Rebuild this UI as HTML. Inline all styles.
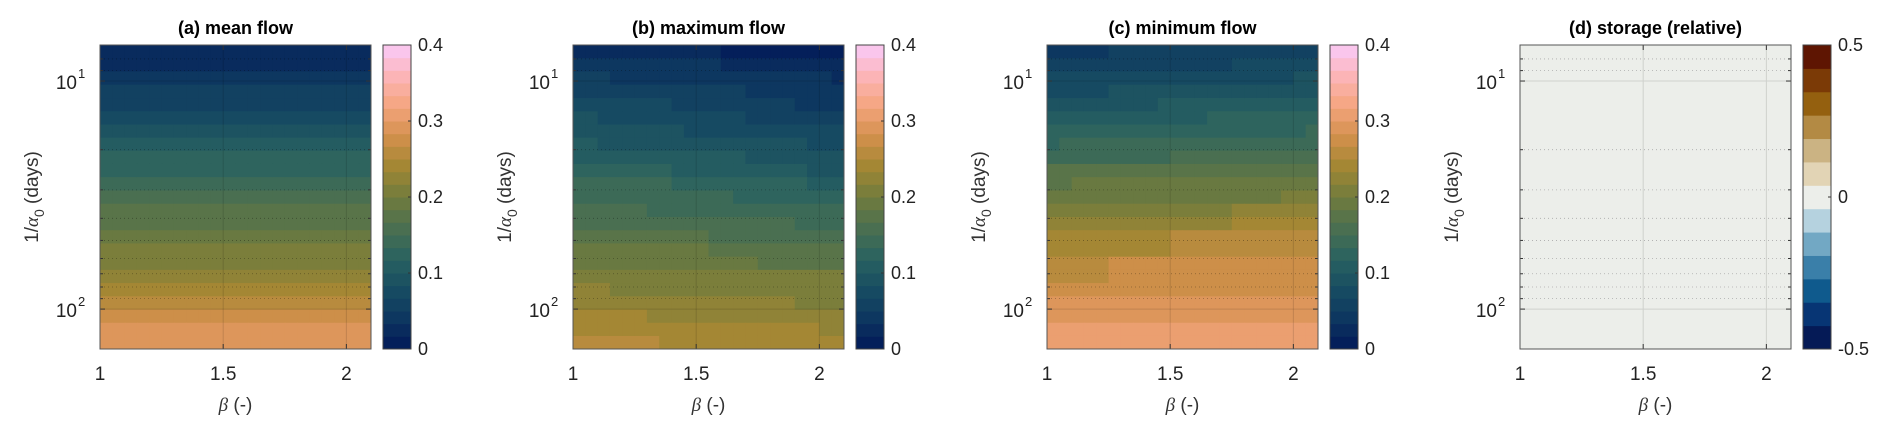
<!DOCTYPE html>
<html><head><meta charset="utf-8">
<style>
html,body{margin:0;padding:0;background:#fff;}
svg{display:block;font-family:"Liberation Sans",Arial,sans-serif;}
</style></head>
<body>
<svg id="fig" width="1892" height="434" viewBox="0 0 1892 434" xmlns="http://www.w3.org/2000/svg"></svg>
<script>
// ---- data ----
const betaValues = [1.025,1.075,1.125,1.175,1.225,1.275,1.325,1.375,1.425,1.475,1.525,1.575,1.625,1.675,1.725,1.775,1.825,1.875,1.925,1.975,2.025,2.075];
const alphaInvDays = [7.43,8.49,9.70,11.1,12.7,14.5,16.6,18.9,21.6,24.7,28.2,32.3,36.9,42.2,48.2,55.1,63.0,71.9,82.2,94.0,107.4,122.7,140.3];
const meanFlow = [0.025,0.025,0.04,0.06,0.06,0.075,0.09,0.11,0.125,0.125,0.14,0.16,0.175,0.175,0.19,0.21,0.21,0.225,0.24,0.26,0.275,0.29,0.29];
function R(){const o=[];for(let i=0;i<arguments.length;i+=2){for(let k=0;k<arguments[i];k++)o.push(arguments[i+1]);}return o;}
const maxFlow = [
R(12,0.025,10,0.01),
R(12,0.04,10,0.025),
R(3,0.06,18,0.04,1,0.025),
R(14,0.06,8,0.04),
R(8,0.075,10,0.06,4,0.04),
R(2,0.09,12,0.075,8,0.06),
R(9,0.09,13,0.075),
R(2,0.11,17,0.09,3,0.075),
R(14,0.11,8,0.09),
R(8,0.125,11,0.11,3,0.09),
R(8,0.14,11,0.125,3,0.11),
R(13,0.14,9,0.125),
R(6,0.16,16,0.14),
R(18,0.16,4,0.14),
R(11,0.175,11,0.16),
R(11,0.19,11,0.175),
R(15,0.19,7,0.175),
R(22,0.21),
R(3,0.225,19,0.21),
R(18,0.225,4,0.21),
R(6,0.24,16,0.225),
R(20,0.24,2,0.225),
R(7,0.26,15,0.24)];
const minFlow = [
R(5,0.04,17,0.06),
R(15,0.06,7,0.075),
R(20,0.075,2,0.09),
R(5,0.075,17,0.09),
R(9,0.09,13,0.11),
R(13,0.11,9,0.125),
R(21,0.125,1,0.14),
R(1,0.125,21,0.14),
R(10,0.14,12,0.16),
R(22,0.175),
R(2,0.175,20,0.19),
R(19,0.19,3,0.21),
R(15,0.21,7,0.225),
R(15,0.225,7,0.24),
R(10,0.24,12,0.26),
R(10,0.24,12,0.26),
R(5,0.26,17,0.275),
R(5,0.26,17,0.275),
R(22,0.275),
R(22,0.29),
R(22,0.29),
R(22,0.31),
R(22,0.31)];
const storageRel = [0,0,0,0,0,0,0,0,0,0,0,0,0,0,0,0,0,0,0,0,0,0,0];
const flowTicks = ["0","0.1","0.2","0.3","0.4"];
const storTicks = ["-0.5","0","0.5"];
const xTicks = [1,1.5,2];
const xTickLabels = ["1","1.5","2"];

// ---- colormaps ----
const batlowAnch = ["#011959","#0d3660","#174d62","#2a6260","#4b7050","#717b3d","#a28733","#d3904c","#f5a57f","#fcb5b8","#facafa"];
function hx(c){return [1,3,5].map(i=>parseInt(c.substr(i,2),16));}
function batlow(t){t=Math.max(0,Math.min(1,t));const p=t*10,i=Math.min(9,Math.floor(p)),f=p-i;const a=hx(batlowAnch[i]),b=hx(batlowAnch[i+1]);return 'rgb('+a.map((v,k)=>Math.round(v+(b[k]-v)*f)).join(',')+')';}
const NL=24;
function flowColor(v){let L=Math.floor(v/0.4*NL);L=Math.max(0,Math.min(NL-1,L));return batlow((L+0.5)/NL);}
const vikBands=["#051a56","#073574","#0f5a8d","#3a7fa9","#72a8c4","#b5d2df","#eceeea","#e2d4b5","#cbb383","#b38a44","#94600f","#7b3a06","#5e1502"];
function storColor(v){let L=Math.floor((v+0.5)/1*13);L=Math.max(0,Math.min(12,L));return vikBands[L];}

// ---- layout ----
const NS="http://www.w3.org/2000/svg";
const svg=document.getElementById('fig');
function el(tag,attrs,parent){const e=document.createElementNS(NS,tag);for(const k in attrs)e.setAttribute(k,attrs[k]);(parent||svg).appendChild(e);return e;}
const TOP=45,H=304,W=271,LMIN=0.842,LMAX=2.175;
function yPix(d){return TOP+(Math.log10(d)-LMIN)/(LMAX-LMIN)*H;}
function yLog(l){return TOP+(l-LMIN)/(LMAX-LMIN)*H;}
function xPix(L,b){return L+(b-1)/1.1*W;}

function panel(L,title,valueAt,colorFn,isStor,key){
  const g=el('g',{});
  
  
  const t=el('text',{x:L+W/2,y:34,'text-anchor':'middle','font-size':18,'font-weight':'bold',fill:'#000'},g);
  t.textContent=title;
  
  
  const lg=alphaInvDays.map(Math.log10);
  const n=lg.length;
  const cg=el('g',{},g);
  
  
  const bw=betaValues[1]-betaValues[0];
  for(let r=0;r<n;r++){
    let y0=r===0?TOP:yLog((lg[r-1]+lg[r])/2);
    let y1=r===n-1?TOP+H:yLog((lg[r]+lg[r+1])/2);
    y0=Math.max(TOP,y0);y1=Math.min(TOP+H,y1);
    for(let c=0;c<betaValues.length;c++){
      const x0=Math.max(L,xPix(L,betaValues[c]-bw/2)), x1=Math.min(L+W,xPix(L,betaValues[c]+bw/2));
      const rc=el('rect',{x:x0,y:y0,width:Math.min(x1-x0+0.6,L+W-x0),height:Math.min(y1-y0+0.6,TOP+H-y0),fill:colorFn(valueAt(r,c))},cg);
      
      
    }
  }
  const gridMaj=isStor?'#cfd1cd':'rgba(0,0,0,0.13)';
  const gridMin=isStor?'#aaa':'rgba(0,0,0,0.35)';
  [1.5,2].forEach(b=>el('line',{x1:xPix(L,b),x2:xPix(L,b),y1:TOP,y2:TOP+H,stroke:gridMaj,'stroke-width':1},g));
  [10,100].forEach(d=>el('line',{x1:L,x2:L+W,y1:yPix(d),y2:yPix(d),stroke:gridMaj,'stroke-width':1},g));
  [8,9,20,30,40,50,60,70,80,90].forEach(d=>{
    el('line',{x1:L,x2:L+W,y1:yPix(d),y2:yPix(d),stroke:gridMin,'stroke-width':0.8,'stroke-dasharray':'1 3'},g);
    el('line',{x1:L,x2:L+3,y1:yPix(d),y2:yPix(d),stroke:'#333','stroke-width':1},g);
    el('line',{x1:L+W-3,x2:L+W,y1:yPix(d),y2:yPix(d),stroke:'#333','stroke-width':1},g);
  });
  [10,100].forEach(d=>{
    el('line',{x1:L,x2:L+5,y1:yPix(d),y2:yPix(d),stroke:'#333'},g);
    el('line',{x1:L+W-5,x2:L+W,y1:yPix(d),y2:yPix(d),stroke:'#333'},g);
  });
  xTicks.forEach(b=>{
    el('line',{x1:xPix(L,b),x2:xPix(L,b),y1:TOP+H,y2:TOP+H-5,stroke:'#333'},g);
    el('line',{x1:xPix(L,b),x2:xPix(L,b),y1:TOP,y2:TOP+5,stroke:'#333'},g);
  });
  const box=el('rect',{x:L,y:TOP,width:W,height:H,fill:'none',stroke:'#555','stroke-width':1},g);
  
  
  xTicks.forEach((b,i)=>{
    const tx=el('text',{x:xPix(L,b),y:380,'text-anchor':'middle','font-size':19,fill:'#222'},g);
    tx.textContent=xTickLabels[i];
    
    
  });
  [[10,'1'],[100,'2']].forEach(([d,e])=>{
    const ty=el('text',{x:L-23,y:yPix(d)+8,'text-anchor':'end','font-size':19,fill:'#222'},g);
    ty.textContent='10';
    
    
    const sp=el('text',{x:L-22,y:yPix(d)-3,'font-size':13,fill:'#222'},g);
    sp.textContent=e;
  });
  const xl=el('text',{x:L+W/2,y:411,'text-anchor':'middle','font-size':19,fill:'#333'},g);
  
  
  const b1=el('tspan',{'font-family':'Liberation Serif, serif','font-style':'italic'},xl);b1.textContent='β';
  const b2=el('tspan',{},xl);b2.textContent=' (-)';
  const yl=el('text',{x:0,y:0,'text-anchor':'middle','font-size':19,fill:'#333',transform:'translate('+(L-62)+','+(TOP+H/2)+') rotate(-90)'},g);
  
  
  const y1=el('tspan',{},yl);y1.textContent='1/';
  const y2=el('tspan',{'font-family':'Liberation Serif, serif','font-style':'italic'},yl);y2.textContent='α';
  const y3=el('tspan',{dy:6,'font-size':14},yl);y3.textContent='0';
  const y4=el('tspan',{dy:-6},yl);y4.textContent=' (days)';
  const CX=L+283,CW=28;
  const cb=el('g',{},g);
  
  
  if(!isStor){
    for(let i=0;i<NL;i++){
      el('rect',{x:CX,y:TOP+H-(i+1)*H/NL,width:CW,height:H/NL+0.5,fill:batlow((i+0.5)/NL)},cb);
    }
    flowTicks.forEach((s,i)=>{
      const y=TOP+H-i*H/4;
      el('line',{x1:CX+CW-3,x2:CX+CW,y1:y,y2:y,stroke:'#333'},cb);
      const tt=el('text',{x:CX+CW+7,y:y+6,'font-size':18,fill:'#222'},cb);
      tt.textContent=s;
      
      
    });
  } else {
    for(let i=0;i<13;i++){
      el('rect',{x:CX,y:TOP+H-(i+1)*H/13,width:CW,height:H/13+0.5,fill:vikBands[i]},cb);
    }
    storTicks.forEach((s,i)=>{
      const y=TOP+H-i*H/2;
      el('line',{x1:CX+CW-3,x2:CX+CW,y1:y,y2:y,stroke:'#333'},cb);
      const tt=el('text',{x:CX+CW+7,y:y+6,'font-size':18,fill:'#222'},cb);
      tt.textContent=s;
      
      
    });
  }
  el('rect',{x:CX,y:TOP,width:CW,height:H,fill:'none',stroke:'#444','stroke-width':1},cb);
}
panel(100,'(a) mean flow',(r,c)=>meanFlow[r],flowColor,false,'mean-flow');
panel(573,'(b) maximum flow',(r,c)=>maxFlow[r][c],flowColor,false,'maximum-flow');
panel(1047,'(c) minimum flow',(r,c)=>minFlow[r][c],flowColor,false,'minimum-flow');
panel(1520,'(d) storage (relative)',(r,c)=>storageRel[r],storColor,true,'storage');
</script>
</body></html>
